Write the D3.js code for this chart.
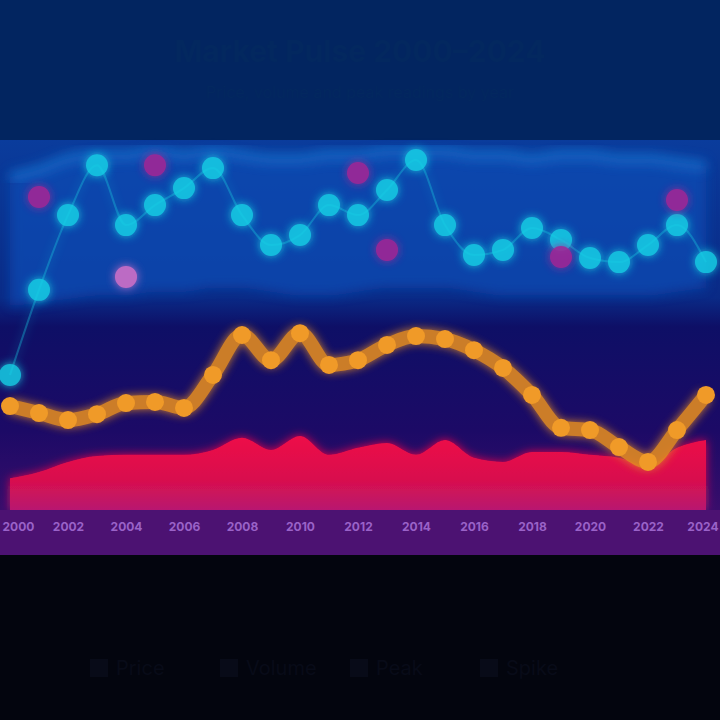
<!DOCTYPE html>
<html><head><meta charset="utf-8">
<script src="https://cdn.jsdelivr.net/npm/d3@7"></script>
<style>html,body{margin:0;padding:0;background:#03050e;}svg{display:block;}</style>
</head><body>
<svg id="chart" width="720" height="720"></svg>
<script>
const years = d3.range(2000, 2025).map(String);
const tickYears = years.filter((d, i) => i % 2 === 0);
const priceSeries = [28.1,26.2,24.3,25.9,28.9,29.2,27.6,36.5,47.3,40.5,47.8,39.2,40.5,44.6,47.0,46.2,43.2,38.4,31.1,22.2,21.6,17.0,13.0,21.6,31.1];
const volumeSeries = [8.6,10.3,13.0,14.6,14.9,14.9,14.9,16.2,19.5,16.2,20.0,14.9,16.8,18.1,14.9,18.9,14.1,13.0,15.7,15.7,14.9,14.1,11.9,16.8,18.9];
const peakSeries = [36.5,59.5,79.7,93.2,77.0,82.4,87.0,92.4,79.7,71.6,74.3,82.4,79.7,86.5,94.6,77.0,68.9,70.3,76.2,73.0,68.1,67.0,71.6,77.0,67.0];
const spikeSeries = [null,84.6,null,null,63.0,93.2,null,null,null,null,null,null,91.1,70.3,null,null,null,null,null,68.4,null,null,null,83.8,null];
const bandHigh = [90,92,95,96,96,97,96,97,96,95,95,96,96,97,97,97,96,96,95,96,96,95,95,94,93];
const bandLow = [55,56,57,58,58,59,59,60,60,59,58,58,59,60,60,60,59,58,58,58,58,58,58,59,60];

const svg = d3.select("#chart");
const defs = svg.append("defs");

const bg = defs.append("linearGradient").attr("id","bg").attr("x1",0).attr("x2",0).attr("y1",0).attr("y2",1);
[[0,"#0a3c9c"],[0.38,"#0a2a86"],[0.45,"#0e0f66"],[0.7,"#1c0a66"],[0.85,"#320c6a"],[1,"#4a1070"]].forEach(s=>bg.append("stop").attr("offset",s[0]).attr("stop-color",s[1]));

const redG = defs.append("linearGradient").attr("id","redG").attr("x1",0).attr("x2",0).attr("y1",0).attr("y2",1);
[[0,"#ee0a48"],[0.6,"#d8104e"],[1,"#b81670"]].forEach(s=>redG.append("stop").attr("offset",s[0]).attr("stop-color",s[1]));

const glow = defs.append("filter").attr("id","glow").attr("x","-50%").attr("y","-50%").attr("width","200%").attr("height","200%");
glow.append("feGaussianBlur").attr("stdDeviation",5).attr("result","b");
const m = glow.append("feMerge"); m.append("feMergeNode").attr("in","b"); m.append("feMergeNode").attr("in","SourceGraphic");

const soft = defs.append("filter").attr("id","soft").attr("x","-20%").attr("y","-20%").attr("width","140%").attr("height","140%");
soft.append("feGaussianBlur").attr("stdDeviation",6);

const x = d3.scalePoint().domain(years).range([10,706]);
const y = d3.scaleLinear().domain([0,100]).range([510,140]);

// header
svg.append("rect").attr("x",0).attr("y",0).attr("width",720).attr("height",140).attr("fill","#022560");
svg.append("text").attr("x",360).attr("y",62).attr("text-anchor","middle").attr("font-family","Inter, sans-serif").attr("font-size",30).attr("font-weight",700).attr("fill","#03285f").text("Market Pulse 2000–2024");
svg.append("text").attr("x",360).attr("y",98).attr("text-anchor","middle").attr("font-family","Inter, sans-serif").attr("font-size",16).attr("fill","#03285f").text("Price, volume and peak readings by year");

// plot background
svg.append("rect").attr("x",0).attr("y",140).attr("width",720).attr("height",415).attr("fill","url(#bg)");

// band
const band = d3.area().x((d,i)=>x(years[i])).y0((d,i)=>y(bandLow[i])).y1(d=>y(d)).curve(d3.curveMonotoneX);
svg.append("path").datum(bandHigh).attr("d",band).attr("fill","#0b4cb4").attr("opacity",0.75).attr("filter","url(#soft)");
const hiLine = d3.line().x((d,i)=>x(years[i])).y(d=>y(d)).curve(d3.curveMonotoneX);
svg.append("path").datum(bandHigh).attr("d",hiLine).attr("fill","none").attr("stroke","#1c80dc").attr("stroke-width",10).attr("opacity",0.6).attr("filter","url(#soft)");

// volume area
const area = d3.area().x((d,i)=>x(years[i])).y0(y(0)).y1(d=>y(d)).curve(d3.curveMonotoneX);
svg.append("path").datum(volumeSeries).attr("d",area).attr("fill","url(#redG)").attr("filter","url(#glow)");

// peak line (cyan)
const line = d3.line().x((d,i)=>x(years[i])).y(d=>y(d)).curve(d3.curveMonotoneX);
svg.append("path").datum(peakSeries).attr("d",line).attr("fill","none").attr("stroke","#18c8e0").attr("stroke-width",2).attr("opacity",0.4).attr("filter","url(#glow)");
svg.append("g").selectAll("circle").data(peakSeries).join("circle")
  .attr("cx",(d,i)=>x(years[i])).attr("cy",d=>y(d)).attr("r",11)
  .attr("fill","#16d0e6").attr("opacity",0.85).attr("filter","url(#glow)");

// spikes (magenta)
svg.append("g").selectAll("circle").data(spikeSeries.map((v,i)=>({v,i})).filter(d=>d.v!==null)).join("circle")
  .attr("cx",d=>x(years[d.i])).attr("cy",d=>y(d.v)).attr("r",11)
  .attr("fill",d=>d.i===4?"#d070c8":"#a02896").attr("opacity",0.9).attr("filter","url(#glow)");

// price line (orange)
svg.append("path").datum(priceSeries).attr("d",line).attr("fill","none").attr("stroke","#e08a22").attr("stroke-width",14).attr("stroke-linejoin","round").attr("opacity",0.9).attr("filter","url(#glow)");
svg.append("g").selectAll("circle").data(priceSeries).join("circle")
  .attr("cx",(d,i)=>x(years[i])).attr("cy",d=>y(d)).attr("r",9).attr("fill","#f09a28");

// x axis strip
svg.append("rect").attr("x",0).attr("y",510).attr("width",720).attr("height",45).attr("fill","#4c1272");
const xAxis = d3.axisBottom(x).tickValues(tickYears).tickSize(0).tickPadding(10);
const ax = svg.append("g").attr("transform","translate(0,512)").call(xAxis);
ax.select(".domain").remove();
ax.selectAll("text").attr("font-family","Inter, sans-serif").attr("font-size",12).attr("font-weight",700).attr("fill","#9a62c8");
ax.selectAll(".tick text").filter(d=>d===tickYears[0]).attr("text-anchor","start").attr("dx",-8);
ax.selectAll(".tick text").filter(d=>d===tickYears[tickYears.length-1]).attr("text-anchor","end").attr("dx",12);

// footer
svg.append("rect").attr("x",0).attr("y",555).attr("width",720).attr("height",165).attr("fill","#03050e");
const legendItems = ["Price","Volume","Peak","Spike"];
const lg = svg.append("g").attr("transform","translate(90,675)");
legendItems.forEach((d,i)=>{
  const g = lg.append("g").attr("transform",`translate(${i*130},0)`);
  g.append("rect").attr("x",0).attr("y",-16).attr("width",18).attr("height",18).attr("fill","#080b18");
  g.append("text").attr("x",26).attr("y",0).attr("font-family","Inter, sans-serif").attr("font-size",20).attr("fill","#080b18").text(d);
});
</script>
</body></html>
